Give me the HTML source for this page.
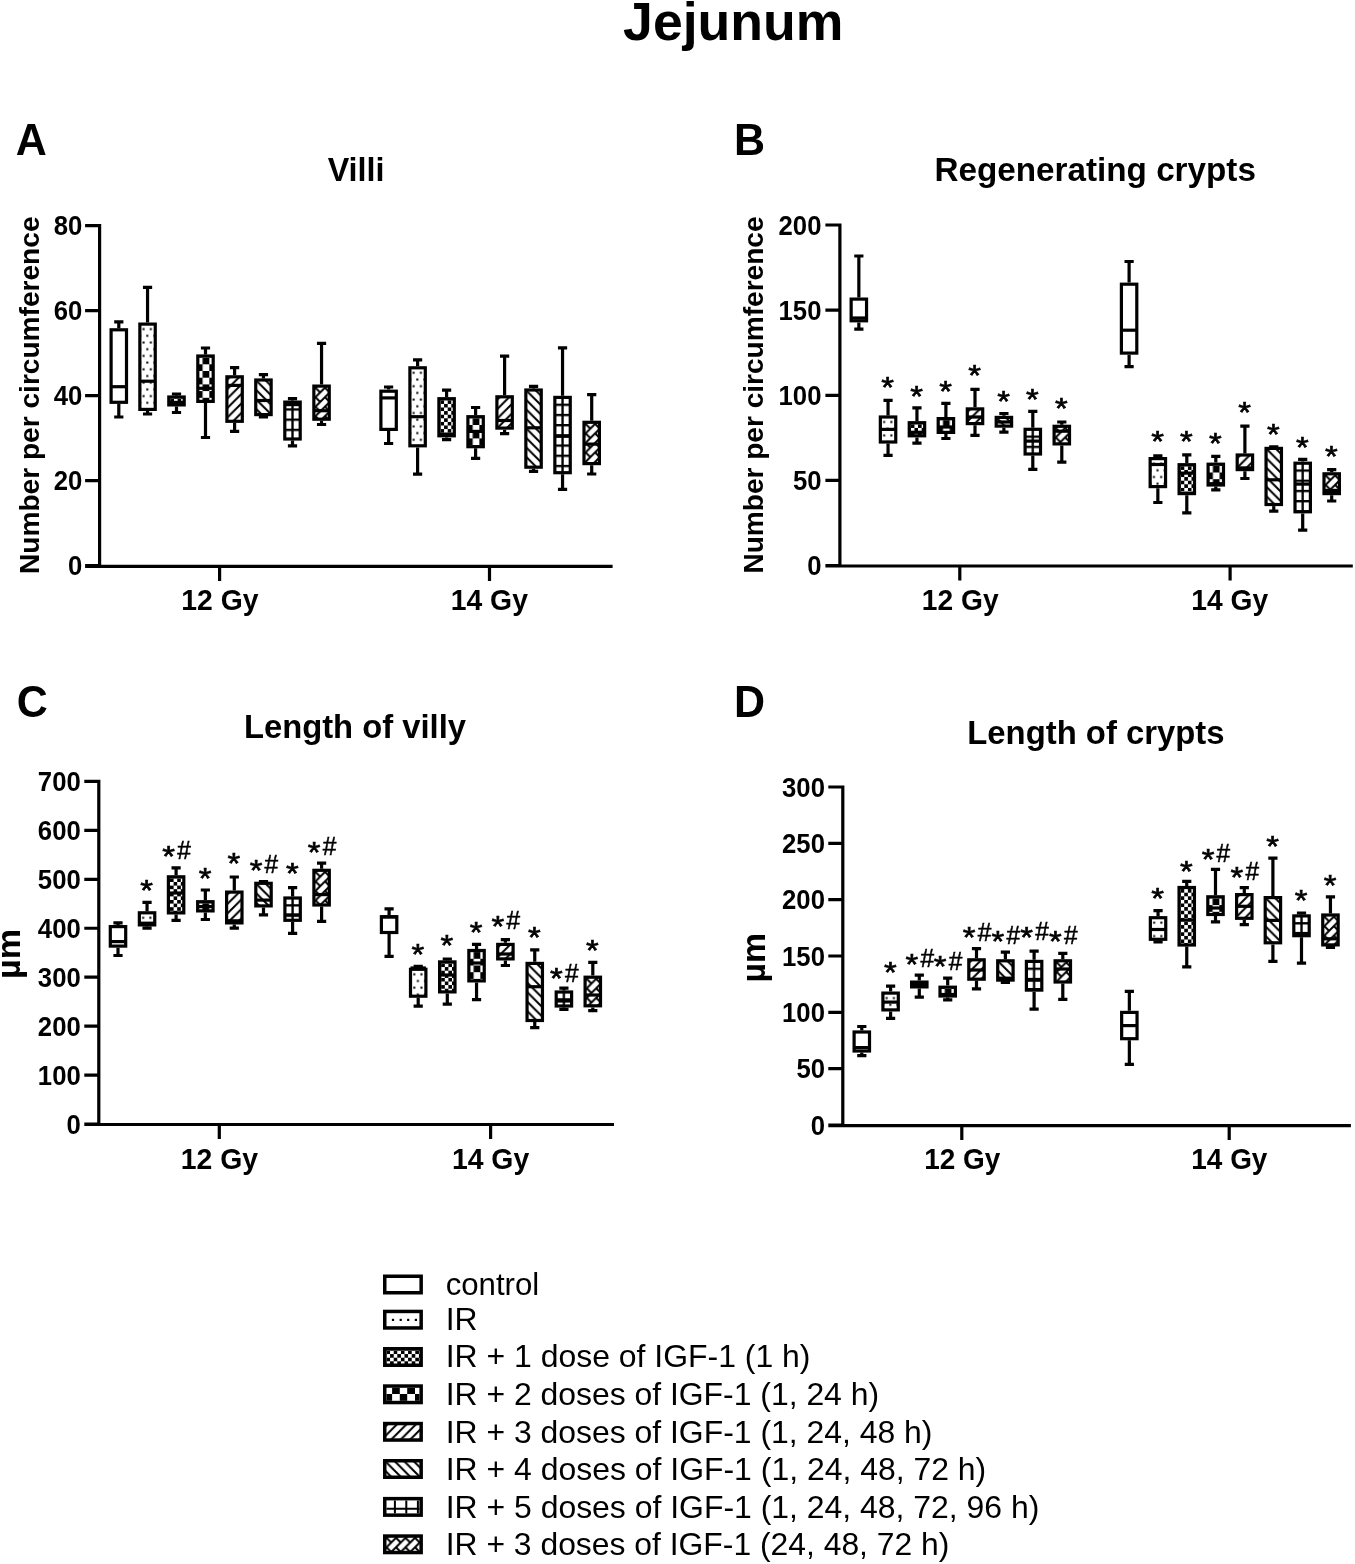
<!DOCTYPE html>
<html><head><meta charset="utf-8"><title>Jejunum</title>
<style>html,body{margin:0;padding:0;background:#fff;}svg{display:block;will-change:transform;}
text{font-family:"Liberation Sans",sans-serif;fill:#000;}</style></head>
<body><svg width="1355" height="1564" viewBox="0 0 1355 1564">
<rect width="1355" height="1564" fill="#fff"/>
<defs><pattern id="p1" patternUnits="userSpaceOnUse" x="141.45" y="325.7" width="7.2" height="13.4"><rect width="7.2" height="13.4" fill="white"/><rect x="1.2" y="2.4" width="2" height="2" fill="black"/><rect x="4.8" y="9.1" width="2" height="2" fill="black"/></pattern>
<pattern id="p2" patternUnits="userSpaceOnUse" x="170.4" y="398.6" width="7.2" height="7.2"><rect width="7.2" height="7.2" fill="white"/><rect x="0" y="0" width="3.6" height="3.6" fill="black"/><rect x="3.6" y="3.6" width="3.6" height="3.6" fill="black"/></pattern>
<pattern id="p3" patternUnits="userSpaceOnUse" x="199.4" y="357.6" width="13.4" height="13.4"><rect width="13.4" height="13.4" fill="white"/><rect x="3.2" y="0" width="6.7" height="6.7" fill="black"/><rect x="9.9" y="6.7" width="6.7" height="6.7" fill="black"/><rect x="-3.5" y="6.7" width="6.7" height="6.7" fill="black"/></pattern>
<pattern id="p4" patternUnits="userSpaceOnUse" x="228.5" y="378.4" width="9.5" height="9.5"><rect width="9.5" height="9.5" fill="white"/><path d="M-1 10.5L10.5 -1M-2 2L2 -2M7.5 11.5L11.5 7.5" stroke="black" stroke-width="2"/></pattern>
<pattern id="p5" patternUnits="userSpaceOnUse" x="257.35" y="381.6" width="9.5" height="9.5"><rect width="9.5" height="9.5" fill="white"/><path d="M-1 -1L10.5 10.5M-2 7.5L2 11.5M7.5 -2L11.5 2" stroke="black" stroke-width="2"/></pattern>
<pattern id="p6" patternUnits="userSpaceOnUse" x="286.4" y="403.7" width="10.2" height="10.2"><rect width="10.2" height="10.2" fill="white"/><path d="M0 5.7H10.2M6.1 0V10.2" stroke="black" stroke-width="2.3"/></pattern>
<pattern id="p7" patternUnits="userSpaceOnUse" x="315.45" y="387.7" width="9.5" height="9.5"><rect width="9.5" height="9.5" fill="white"/><path d="M-1 10.5L10.5 -1M-2 2L2 -2M7.5 11.5L11.5 7.5M0 0L4.75 4.75" stroke="black" stroke-width="2"/></pattern>
<pattern id="p8" patternUnits="userSpaceOnUse" x="411.5" y="369.4" width="7.2" height="13.4"><rect width="7.2" height="13.4" fill="white"/><rect x="1.2" y="2.4" width="2" height="2" fill="black"/><rect x="4.8" y="9.1" width="2" height="2" fill="black"/></pattern>
<pattern id="p9" patternUnits="userSpaceOnUse" x="440.5" y="400.3" width="7.2" height="7.2"><rect width="7.2" height="7.2" fill="white"/><rect x="0" y="0" width="3.6" height="3.6" fill="black"/><rect x="3.6" y="3.6" width="3.6" height="3.6" fill="black"/></pattern>
<pattern id="p10" patternUnits="userSpaceOnUse" x="469.5" y="418.3" width="13.4" height="13.4"><rect width="13.4" height="13.4" fill="white"/><rect x="3.2" y="0" width="6.7" height="6.7" fill="black"/><rect x="9.9" y="6.7" width="6.7" height="6.7" fill="black"/><rect x="-3.5" y="6.7" width="6.7" height="6.7" fill="black"/></pattern>
<pattern id="p11" patternUnits="userSpaceOnUse" x="498.5" y="398.4" width="9.5" height="9.5"><rect width="9.5" height="9.5" fill="white"/><path d="M-1 10.5L10.5 -1M-2 2L2 -2M7.5 11.5L11.5 7.5" stroke="black" stroke-width="2"/></pattern>
<pattern id="p12" patternUnits="userSpaceOnUse" x="527.45" y="391.6" width="9.5" height="9.5"><rect width="9.5" height="9.5" fill="white"/><path d="M-1 -1L10.5 10.5M-2 7.5L2 11.5M7.5 -2L11.5 2" stroke="black" stroke-width="2"/></pattern>
<pattern id="p13" patternUnits="userSpaceOnUse" x="556.45" y="399" width="10.2" height="10.2"><rect width="10.2" height="10.2" fill="white"/><path d="M0 5.7H10.2M6.1 0V10.2" stroke="black" stroke-width="2.3"/></pattern>
<pattern id="p14" patternUnits="userSpaceOnUse" x="585.6" y="423.9" width="9.5" height="9.5"><rect width="9.5" height="9.5" fill="white"/><path d="M-1 10.5L10.5 -1M-2 2L2 -2M7.5 11.5L11.5 7.5M0 0L4.75 4.75" stroke="black" stroke-width="2"/></pattern>
<pattern id="p15" patternUnits="userSpaceOnUse" x="881.95" y="418.6" width="7.2" height="13.4"><rect width="7.2" height="13.4" fill="white"/><rect x="1.2" y="2.4" width="2" height="2" fill="black"/><rect x="4.8" y="9.1" width="2" height="2" fill="black"/></pattern>
<pattern id="p16" patternUnits="userSpaceOnUse" x="910.85" y="424.3" width="7.2" height="7.2"><rect width="7.2" height="7.2" fill="white"/><rect x="0" y="0" width="3.6" height="3.6" fill="black"/><rect x="3.6" y="3.6" width="3.6" height="3.6" fill="black"/></pattern>
<pattern id="p17" patternUnits="userSpaceOnUse" x="939.8" y="420.2" width="13.4" height="13.4"><rect width="13.4" height="13.4" fill="white"/><rect x="3.2" y="0" width="6.7" height="6.7" fill="black"/><rect x="9.9" y="6.7" width="6.7" height="6.7" fill="black"/><rect x="-3.5" y="6.7" width="6.7" height="6.7" fill="black"/></pattern>
<pattern id="p18" patternUnits="userSpaceOnUse" x="968.9" y="410.5" width="9.5" height="9.5"><rect width="9.5" height="9.5" fill="white"/><path d="M-1 10.5L10.5 -1M-2 2L2 -2M7.5 11.5L11.5 7.5" stroke="black" stroke-width="2"/></pattern>
<pattern id="p19" patternUnits="userSpaceOnUse" x="997.8" y="419" width="9.5" height="9.5"><rect width="9.5" height="9.5" fill="white"/><path d="M-1 -1L10.5 10.5M-2 7.5L2 11.5M7.5 -2L11.5 2" stroke="black" stroke-width="2"/></pattern>
<pattern id="p20" patternUnits="userSpaceOnUse" x="1026.7" y="430.9" width="10.2" height="10.2"><rect width="10.2" height="10.2" fill="white"/><path d="M0 5.7H10.2M6.1 0V10.2" stroke="black" stroke-width="2.3"/></pattern>
<pattern id="p21" patternUnits="userSpaceOnUse" x="1055.7" y="427.9" width="9.5" height="9.5"><rect width="9.5" height="9.5" fill="white"/><path d="M-1 10.5L10.5 -1M-2 2L2 -2M7.5 11.5L11.5 7.5M0 0L4.75 4.75" stroke="black" stroke-width="2"/></pattern>
<pattern id="p22" patternUnits="userSpaceOnUse" x="1151.75" y="460.2" width="7.2" height="13.4"><rect width="7.2" height="13.4" fill="white"/><rect x="1.2" y="2.4" width="2" height="2" fill="black"/><rect x="4.8" y="9.1" width="2" height="2" fill="black"/></pattern>
<pattern id="p23" patternUnits="userSpaceOnUse" x="1180.7" y="466.3" width="7.2" height="7.2"><rect width="7.2" height="7.2" fill="white"/><rect x="0" y="0" width="3.6" height="3.6" fill="black"/><rect x="3.6" y="3.6" width="3.6" height="3.6" fill="black"/></pattern>
<pattern id="p24" patternUnits="userSpaceOnUse" x="1209.7" y="465.8" width="13.4" height="13.4"><rect width="13.4" height="13.4" fill="white"/><rect x="3.2" y="0" width="6.7" height="6.7" fill="black"/><rect x="9.9" y="6.7" width="6.7" height="6.7" fill="black"/><rect x="-3.5" y="6.7" width="6.7" height="6.7" fill="black"/></pattern>
<pattern id="p25" patternUnits="userSpaceOnUse" x="1238.8" y="456.6" width="9.5" height="9.5"><rect width="9.5" height="9.5" fill="white"/><path d="M-1 10.5L10.5 -1M-2 2L2 -2M7.5 11.5L11.5 7.5" stroke="black" stroke-width="2"/></pattern>
<pattern id="p26" patternUnits="userSpaceOnUse" x="1267.65" y="450" width="9.5" height="9.5"><rect width="9.5" height="9.5" fill="white"/><path d="M-1 -1L10.5 10.5M-2 7.5L2 11.5M7.5 -2L11.5 2" stroke="black" stroke-width="2"/></pattern>
<pattern id="p27" patternUnits="userSpaceOnUse" x="1296.6" y="464.8" width="10.2" height="10.2"><rect width="10.2" height="10.2" fill="white"/><path d="M0 5.7H10.2M6.1 0V10.2" stroke="black" stroke-width="2.3"/></pattern>
<pattern id="p28" patternUnits="userSpaceOnUse" x="1325.6" y="475.4" width="9.5" height="9.5"><rect width="9.5" height="9.5" fill="white"/><path d="M-1 10.5L10.5 -1M-2 2L2 -2M7.5 11.5L11.5 7.5M0 0L4.75 4.75" stroke="black" stroke-width="2"/></pattern>
<pattern id="p29" patternUnits="userSpaceOnUse" x="140.95" y="914.4" width="7.2" height="13.4"><rect width="7.2" height="13.4" fill="white"/><rect x="1.2" y="2.4" width="2" height="2" fill="black"/><rect x="4.8" y="9.1" width="2" height="2" fill="black"/></pattern>
<pattern id="p30" patternUnits="userSpaceOnUse" x="170" y="878.4" width="7.2" height="7.2"><rect width="7.2" height="7.2" fill="white"/><rect x="0" y="0" width="3.6" height="3.6" fill="black"/><rect x="3.6" y="3.6" width="3.6" height="3.6" fill="black"/></pattern>
<pattern id="p31" patternUnits="userSpaceOnUse" x="199.25" y="903.3" width="13.4" height="13.4"><rect width="13.4" height="13.4" fill="white"/><rect x="3.2" y="0" width="6.7" height="6.7" fill="black"/><rect x="9.9" y="6.7" width="6.7" height="6.7" fill="black"/><rect x="-3.5" y="6.7" width="6.7" height="6.7" fill="black"/></pattern>
<pattern id="p32" patternUnits="userSpaceOnUse" x="228.2" y="893.7" width="9.5" height="9.5"><rect width="9.5" height="9.5" fill="white"/><path d="M-1 10.5L10.5 -1M-2 2L2 -2M7.5 11.5L11.5 7.5" stroke="black" stroke-width="2"/></pattern>
<pattern id="p33" patternUnits="userSpaceOnUse" x="257.4" y="884.9" width="9.5" height="9.5"><rect width="9.5" height="9.5" fill="white"/><path d="M-1 -1L10.5 10.5M-2 7.5L2 11.5M7.5 -2L11.5 2" stroke="black" stroke-width="2"/></pattern>
<pattern id="p34" patternUnits="userSpaceOnUse" x="286.5" y="899.6" width="10.2" height="10.2"><rect width="10.2" height="10.2" fill="white"/><path d="M0 5.7H10.2M6.1 0V10.2" stroke="black" stroke-width="2.3"/></pattern>
<pattern id="p35" patternUnits="userSpaceOnUse" x="315.5" y="871.9" width="9.5" height="9.5"><rect width="9.5" height="9.5" fill="white"/><path d="M-1 10.5L10.5 -1M-2 2L2 -2M7.5 11.5L11.5 7.5M0 0L4.75 4.75" stroke="black" stroke-width="2"/></pattern>
<pattern id="p36" patternUnits="userSpaceOnUse" x="412.1" y="970.9" width="7.2" height="13.4"><rect width="7.2" height="13.4" fill="white"/><rect x="1.2" y="2.4" width="2" height="2" fill="black"/><rect x="4.8" y="9.1" width="2" height="2" fill="black"/></pattern>
<pattern id="p37" patternUnits="userSpaceOnUse" x="441.2" y="963.5" width="7.2" height="7.2"><rect width="7.2" height="7.2" fill="white"/><rect x="0" y="0" width="3.6" height="3.6" fill="black"/><rect x="3.6" y="3.6" width="3.6" height="3.6" fill="black"/></pattern>
<pattern id="p38" patternUnits="userSpaceOnUse" x="470.45" y="952.1" width="13.4" height="13.4"><rect width="13.4" height="13.4" fill="white"/><rect x="3.2" y="0" width="6.7" height="6.7" fill="black"/><rect x="9.9" y="6.7" width="6.7" height="6.7" fill="black"/><rect x="-3.5" y="6.7" width="6.7" height="6.7" fill="black"/></pattern>
<pattern id="p39" patternUnits="userSpaceOnUse" x="499.3" y="946" width="9.5" height="9.5"><rect width="9.5" height="9.5" fill="white"/><path d="M-1 10.5L10.5 -1M-2 2L2 -2M7.5 11.5L11.5 7.5" stroke="black" stroke-width="2"/></pattern>
<pattern id="p40" patternUnits="userSpaceOnUse" x="528.65" y="965" width="9.5" height="9.5"><rect width="9.5" height="9.5" fill="white"/><path d="M-1 -1L10.5 10.5M-2 7.5L2 11.5M7.5 -2L11.5 2" stroke="black" stroke-width="2"/></pattern>
<pattern id="p41" patternUnits="userSpaceOnUse" x="557.8" y="993.6" width="10.2" height="10.2"><rect width="10.2" height="10.2" fill="white"/><path d="M0 5.7H10.2M6.1 0V10.2" stroke="black" stroke-width="2.3"/></pattern>
<pattern id="p42" patternUnits="userSpaceOnUse" x="586.7" y="978.8" width="9.5" height="9.5"><rect width="9.5" height="9.5" fill="white"/><path d="M-1 10.5L10.5 -1M-2 2L2 -2M7.5 11.5L11.5 7.5M0 0L4.75 4.75" stroke="black" stroke-width="2"/></pattern>
<pattern id="p43" patternUnits="userSpaceOnUse" x="884.5" y="994.7" width="7.2" height="13.4"><rect width="7.2" height="13.4" fill="white"/><rect x="1.2" y="2.4" width="2" height="2" fill="black"/><rect x="4.8" y="9.1" width="2" height="2" fill="black"/></pattern>
<pattern id="p44" patternUnits="userSpaceOnUse" x="913.2" y="983.7" width="7.2" height="7.2"><rect width="7.2" height="7.2" fill="white"/><rect x="0" y="0" width="3.6" height="3.6" fill="black"/><rect x="3.6" y="3.6" width="3.6" height="3.6" fill="black"/></pattern>
<pattern id="p45" patternUnits="userSpaceOnUse" x="941.6" y="988.8" width="13.4" height="13.4"><rect width="13.4" height="13.4" fill="white"/><rect x="3.2" y="0" width="6.7" height="6.7" fill="black"/><rect x="9.9" y="6.7" width="6.7" height="6.7" fill="black"/><rect x="-3.5" y="6.7" width="6.7" height="6.7" fill="black"/></pattern>
<pattern id="p46" patternUnits="userSpaceOnUse" x="970.4" y="961.4" width="9.5" height="9.5"><rect width="9.5" height="9.5" fill="white"/><path d="M-1 10.5L10.5 -1M-2 2L2 -2M7.5 11.5L11.5 7.5" stroke="black" stroke-width="2"/></pattern>
<pattern id="p47" patternUnits="userSpaceOnUse" x="999.3" y="962.4" width="9.5" height="9.5"><rect width="9.5" height="9.5" fill="white"/><path d="M-1 -1L10.5 10.5M-2 7.5L2 11.5M7.5 -2L11.5 2" stroke="black" stroke-width="2"/></pattern>
<pattern id="p48" patternUnits="userSpaceOnUse" x="1028" y="963" width="10.2" height="10.2"><rect width="10.2" height="10.2" fill="white"/><path d="M0 5.7H10.2M6.1 0V10.2" stroke="black" stroke-width="2.3"/></pattern>
<pattern id="p49" patternUnits="userSpaceOnUse" x="1056.7" y="962.4" width="9.5" height="9.5"><rect width="9.5" height="9.5" fill="white"/><path d="M-1 10.5L10.5 -1M-2 2L2 -2M7.5 11.5L11.5 7.5M0 0L4.75 4.75" stroke="black" stroke-width="2"/></pattern>
<pattern id="p50" patternUnits="userSpaceOnUse" x="1151.95" y="919.3" width="7.2" height="13.4"><rect width="7.2" height="13.4" fill="white"/><rect x="1.2" y="2.4" width="2" height="2" fill="black"/><rect x="4.8" y="9.1" width="2" height="2" fill="black"/></pattern>
<pattern id="p51" patternUnits="userSpaceOnUse" x="1180.65" y="889.1" width="7.2" height="7.2"><rect width="7.2" height="7.2" fill="white"/><rect x="0" y="0" width="3.6" height="3.6" fill="black"/><rect x="3.6" y="3.6" width="3.6" height="3.6" fill="black"/></pattern>
<pattern id="p52" patternUnits="userSpaceOnUse" x="1209.4" y="898.4" width="13.4" height="13.4"><rect width="13.4" height="13.4" fill="white"/><rect x="3.2" y="0" width="6.7" height="6.7" fill="black"/><rect x="9.9" y="6.7" width="6.7" height="6.7" fill="black"/><rect x="-3.5" y="6.7" width="6.7" height="6.7" fill="black"/></pattern>
<pattern id="p53" patternUnits="userSpaceOnUse" x="1238.2" y="896.2" width="9.5" height="9.5"><rect width="9.5" height="9.5" fill="white"/><path d="M-1 10.5L10.5 -1M-2 2L2 -2M7.5 11.5L11.5 7.5" stroke="black" stroke-width="2"/></pattern>
<pattern id="p54" patternUnits="userSpaceOnUse" x="1266.8" y="899.2" width="9.5" height="9.5"><rect width="9.5" height="9.5" fill="white"/><path d="M-1 -1L10.5 10.5M-2 7.5L2 11.5M7.5 -2L11.5 2" stroke="black" stroke-width="2"/></pattern>
<pattern id="p55" patternUnits="userSpaceOnUse" x="1295.4" y="917.5" width="10.2" height="10.2"><rect width="10.2" height="10.2" fill="white"/><path d="M0 5.7H10.2M6.1 0V10.2" stroke="black" stroke-width="2.3"/></pattern>
<pattern id="p56" patternUnits="userSpaceOnUse" x="1324.35" y="916.6" width="9.5" height="9.5"><rect width="9.5" height="9.5" fill="white"/><path d="M-1 10.5L10.5 -1M-2 2L2 -2M7.5 11.5L11.5 7.5M0 0L4.75 4.75" stroke="black" stroke-width="2"/></pattern>
<pattern id="p57" patternUnits="userSpaceOnUse" x="386.5" y="1350.5" width="7.2" height="7.2"><rect width="7.2" height="7.2" fill="white"/><rect x="0" y="0" width="3.6" height="3.6" fill="black"/><rect x="3.6" y="3.6" width="3.6" height="3.6" fill="black"/></pattern>
<pattern id="p58" patternUnits="userSpaceOnUse" x="386.5" y="1425.3" width="9.5" height="9.5"><rect width="9.5" height="9.5" fill="white"/><path d="M-1 10.5L10.5 -1M-2 2L2 -2M7.5 11.5L11.5 7.5" stroke="black" stroke-width="2"/></pattern>
<pattern id="p59" patternUnits="userSpaceOnUse" x="386.5" y="1462.5" width="9.5" height="9.5"><rect width="9.5" height="9.5" fill="white"/><path d="M-1 -1L10.5 10.5M-2 7.5L2 11.5M7.5 -2L11.5 2" stroke="black" stroke-width="2"/></pattern>
<pattern id="p60" patternUnits="userSpaceOnUse" x="386.5" y="1537.8" width="9.5" height="9.5"><rect width="9.5" height="9.5" fill="white"/><path d="M-1 10.5L10.5 -1M-2 2L2 -2M7.5 11.5L11.5 7.5M0 0L4.75 4.75" stroke="black" stroke-width="2"/></pattern></defs>
<text x="623.1" y="39.8" font-size="53.6" font-weight="bold" textLength="220.43" lengthAdjust="spacingAndGlyphs">Jejunum</text>
<text x="15.73" y="155.4" font-size="43" font-weight="bold" transform="matrix(1 0 0 1.0200 0 -3.108)">A</text>
<text x="733.9" y="155.4" font-size="43" font-weight="bold" transform="matrix(1 0 0 1.0200 0 -3.108)">B</text>
<text x="16.78" y="716.6" font-size="43" font-weight="bold" transform="matrix(1 0 0 1.0200 0 -14.332)">C</text>
<text x="733.9" y="717.1" font-size="43" font-weight="bold" transform="matrix(1 0 0 1.0200 0 -14.342)">D</text>
<text x="327.66" y="181.2" font-size="32.8" font-weight="bold" textLength="56.81" lengthAdjust="spacingAndGlyphs">Villi</text>
<text x="934.56" y="181.2" font-size="32.8" font-weight="bold" textLength="321.35" lengthAdjust="spacingAndGlyphs">Regenerating crypts</text>
<text x="243.99" y="737.5" font-size="32.8" font-weight="bold" textLength="221.99" lengthAdjust="spacingAndGlyphs">Length of villy</text>
<text x="967.28" y="744.1" font-size="32.8" font-weight="bold" textLength="257.27" lengthAdjust="spacingAndGlyphs">Length of crypts</text>
<text transform="translate(39.1 572.1) rotate(-90)" x="-1.9" y="0" font-size="28.1" font-weight="bold" textLength="357.51" lengthAdjust="spacingAndGlyphs">Number per circumference</text>
<text transform="translate(763 571.7) rotate(-90)" x="-1.89" y="0" font-size="28.1" font-weight="bold" textLength="357.11" lengthAdjust="spacingAndGlyphs">Number per circumference</text>
<text transform="translate(20.1 976.7) rotate(-90)" x="-2.22" y="0" font-size="34" font-weight="bold" textLength="50.07" lengthAdjust="spacingAndGlyphs">µm</text>
<text transform="translate(765.1 980.2) rotate(-90)" x="-2.2" y="0" font-size="34" font-weight="bold" textLength="49.52" lengthAdjust="spacingAndGlyphs">µm</text>
<path d="M99.6 224V568M85.1 566.4H612.6M85.1 565.6H99.6M85.1 480.6H99.6M85.1 395.6H99.6M85.1 310.6H99.6M85.1 225.6H99.6M219.6 566.4V580.9M489.5 566.4V580.9" stroke="black" stroke-width="3.2" fill="none"/>
<text x="67.96" y="575.38" font-size="25.7" font-weight="bold" transform="matrix(1 0 0 1.0500 0 -28.769)">0</text>
<text x="53.7" y="490.38" font-size="25.7" font-weight="bold" transform="matrix(1 0 0 1.0500 0 -24.519)">20</text>
<text x="53.7" y="405.38" font-size="25.7" font-weight="bold" transform="matrix(1 0 0 1.0500 0 -20.269)">40</text>
<text x="53.7" y="320.38" font-size="25.7" font-weight="bold" transform="matrix(1 0 0 1.0500 0 -16.019)">60</text>
<text x="53.7" y="235.38" font-size="25.7" font-weight="bold" transform="matrix(1 0 0 1.0500 0 -11.769)">80</text>
<text x="181.33" y="610.5" font-size="28.3" font-weight="bold" transform="matrix(1 0 0 1.0750 0 -45.787)" textLength="77.16" lengthAdjust="spacingAndGlyphs">12 Gy</text>
<text x="450.73" y="610.5" font-size="28.3" font-weight="bold" transform="matrix(1 0 0 1.0750 0 -45.787)" textLength="77.16" lengthAdjust="spacingAndGlyphs">14 Gy</text>
<path d="M839.9 223.4V567.6M825.4 566H1352.8M825.4 565.6H839.9M825.4 480.45H839.9M825.4 395.3H839.9M825.4 310.15H839.9M825.4 225H839.9M959.8 566V580.5M1230.1 566V580.5" stroke="black" stroke-width="3.2" fill="none"/>
<text x="807.16" y="575.38" font-size="25.7" font-weight="bold" transform="matrix(1 0 0 1.0500 0 -28.769)">0</text>
<text x="792.9" y="490.23" font-size="25.7" font-weight="bold" transform="matrix(1 0 0 1.0500 0 -24.511)">50</text>
<text x="778.57" y="405.08" font-size="25.7" font-weight="bold" transform="matrix(1 0 0 1.0500 0 -20.254)">100</text>
<text x="778.57" y="319.93" font-size="25.7" font-weight="bold" transform="matrix(1 0 0 1.0500 0 -15.996)">150</text>
<text x="778.57" y="234.78" font-size="25.7" font-weight="bold" transform="matrix(1 0 0 1.0500 0 -11.739)">200</text>
<text x="921.84" y="610.1" font-size="28.3" font-weight="bold" transform="matrix(1 0 0 1.0750 0 -45.757)" textLength="76.75" lengthAdjust="spacingAndGlyphs">12 Gy</text>
<text x="1191.34" y="610.1" font-size="28.3" font-weight="bold" transform="matrix(1 0 0 1.0750 0 -45.757)" textLength="76.75" lengthAdjust="spacingAndGlyphs">14 Gy</text>
<path d="M98.8 779.8V1126.1M84.3 1124.5H614M84.3 1124H98.8M84.3 1075.06H98.8M84.3 1026.11H98.8M84.3 977.17H98.8M84.3 928.23H98.8M84.3 879.29H98.8M84.3 830.34H98.8M84.3 781.4H98.8M219.3 1124.5V1139M490.6 1124.5V1139" stroke="black" stroke-width="3.2" fill="none"/>
<text x="66.46" y="1133.78" font-size="25.7" font-weight="bold" transform="matrix(1 0 0 1.0500 0 -56.689)">0</text>
<text x="37.87" y="1084.83" font-size="25.7" font-weight="bold" transform="matrix(1 0 0 1.0500 0 -54.242)">100</text>
<text x="37.87" y="1035.89" font-size="25.7" font-weight="bold" transform="matrix(1 0 0 1.0500 0 -51.795)">200</text>
<text x="37.87" y="986.91" font-size="25.7" font-weight="bold" transform="matrix(1 0 0 1.0500 0 -49.346)">300</text>
<text x="37.87" y="938" font-size="25.7" font-weight="bold" transform="matrix(1 0 0 1.0500 0 -46.900)">400</text>
<text x="37.87" y="889.06" font-size="25.7" font-weight="bold" transform="matrix(1 0 0 1.0500 0 -44.453)">500</text>
<text x="37.87" y="840.12" font-size="25.7" font-weight="bold" transform="matrix(1 0 0 1.0500 0 -42.006)">600</text>
<text x="37.87" y="791.18" font-size="25.7" font-weight="bold" transform="matrix(1 0 0 1.0500 0 -39.559)">700</text>
<text x="180.83" y="1168.9" font-size="28.3" font-weight="bold" transform="matrix(1 0 0 1.0750 0 -87.667)" textLength="77.26" lengthAdjust="spacingAndGlyphs">12 Gy</text>
<text x="451.93" y="1168.9" font-size="28.3" font-weight="bold" transform="matrix(1 0 0 1.0750 0 -87.667)" textLength="77.26" lengthAdjust="spacingAndGlyphs">14 Gy</text>
<path d="M842.8 785.4V1127.2M828.3 1125.6H1350.9M828.3 1125H842.8M828.3 1068.67H842.8M828.3 1012.33H842.8M828.3 956H842.8M828.3 899.67H842.8M828.3 843.33H842.8M828.3 787H842.8M961.8 1125.6V1140.1M1229.2 1125.6V1140.1" stroke="black" stroke-width="3.2" fill="none"/>
<text x="810.66" y="1134.78" font-size="25.7" font-weight="bold" transform="matrix(1 0 0 1.0500 0 -56.739)">0</text>
<text x="796.4" y="1078.44" font-size="25.7" font-weight="bold" transform="matrix(1 0 0 1.0500 0 -53.922)">50</text>
<text x="782.07" y="1022.11" font-size="25.7" font-weight="bold" transform="matrix(1 0 0 1.0500 0 -51.105)">100</text>
<text x="782.07" y="965.78" font-size="25.7" font-weight="bold" transform="matrix(1 0 0 1.0500 0 -48.289)">150</text>
<text x="782.07" y="909.44" font-size="25.7" font-weight="bold" transform="matrix(1 0 0 1.0500 0 -45.472)">200</text>
<text x="782.07" y="853.11" font-size="25.7" font-weight="bold" transform="matrix(1 0 0 1.0500 0 -42.655)">250</text>
<text x="782.07" y="796.74" font-size="25.7" font-weight="bold" transform="matrix(1 0 0 1.0500 0 -39.837)">300</text>
<text x="924.16" y="1169.4" font-size="28.3" font-weight="bold" transform="matrix(1 0 0 1.0750 0 -87.705)" textLength="76.03" lengthAdjust="spacingAndGlyphs">12 Gy</text>
<text x="1191.36" y="1169.4" font-size="28.3" font-weight="bold" transform="matrix(1 0 0 1.0750 0 -87.705)" textLength="76.03" lengthAdjust="spacingAndGlyphs">14 Gy</text>
<path d="M118.8 321.8V328.2M118.8 403.9V417" stroke="black" stroke-width="3.2"/>
<path d="M114.2 321.8H123.4M114.2 417H123.4" stroke="black" stroke-width="3.2"/>
<rect x="111.1" y="329.8" width="15.4" height="72.5" fill="white" stroke="black" stroke-width="3.2"/>
<path d="M111.1 386.7H126.5" stroke="black" stroke-width="3.2"/>
<path d="M147.55 287.4V322.5M147.55 411V414" stroke="black" stroke-width="3.2"/>
<path d="M142.95 287.4H152.15M142.95 414H152.15" stroke="black" stroke-width="3.2"/>
<rect x="139.85" y="324.1" width="15.4" height="85.3" fill="url(#p1)" stroke="black" stroke-width="3.2"/>
<path d="M139.85 381.2H155.25" stroke="black" stroke-width="3.2"/>
<path d="M176.5 394V395.4M176.5 406.5V412.5" stroke="black" stroke-width="3.2"/>
<path d="M171.9 394H181.1M171.9 412.5H181.1" stroke="black" stroke-width="3.2"/>
<rect x="168.8" y="397" width="15.4" height="7.9" fill="url(#p2)" stroke="black" stroke-width="3.2"/>
<path d="M168.8 402.4H184.2" stroke="black" stroke-width="3.2"/>
<path d="M205.5 348V354.4M205.5 403V437.5" stroke="black" stroke-width="3.2"/>
<path d="M200.9 348H210.1M200.9 437.5H210.1" stroke="black" stroke-width="3.2"/>
<rect x="197.8" y="356" width="15.4" height="45.4" fill="url(#p3)" stroke="black" stroke-width="3.2"/>
<path d="M197.8 388.3H213.2" stroke="black" stroke-width="3.2"/>
<path d="M234.6 367.7V375.2M234.6 422.9V431.4" stroke="black" stroke-width="3.2"/>
<path d="M230 367.7H239.2M230 431.4H239.2" stroke="black" stroke-width="3.2"/>
<rect x="226.9" y="376.8" width="15.4" height="44.5" fill="url(#p4)" stroke="black" stroke-width="3.2"/>
<path d="M226.9 385.4H242.3" stroke="black" stroke-width="3.2"/>
<path d="M263.45 374.7V378.4M263.45 416.2V417" stroke="black" stroke-width="3.2"/>
<path d="M258.85 374.7H268.05M258.85 417H268.05" stroke="black" stroke-width="3.2"/>
<rect x="255.75" y="380" width="15.4" height="34.6" fill="url(#p5)" stroke="black" stroke-width="3.2"/>
<path d="M255.75 400.5H271.15" stroke="black" stroke-width="3.2"/>
<path d="M292.5 398.7V400.5M292.5 440.6V445.8" stroke="black" stroke-width="3.2"/>
<path d="M287.9 398.7H297.1M287.9 445.8H297.1" stroke="black" stroke-width="3.2"/>
<rect x="284.8" y="402.1" width="15.4" height="36.9" fill="url(#p6)" stroke="black" stroke-width="3.2"/>
<path d="M284.8 404.6H300.2" stroke="black" stroke-width="3.2"/>
<path d="M321.55 343.4V384.5M321.55 420.8V424.5" stroke="black" stroke-width="3.2"/>
<path d="M316.95 343.4H326.15M316.95 424.5H326.15" stroke="black" stroke-width="3.2"/>
<rect x="313.85" y="386.1" width="15.4" height="33.1" fill="url(#p7)" stroke="black" stroke-width="3.2"/>
<path d="M313.85 410.7H329.25" stroke="black" stroke-width="3.2"/>
<path d="M388.6 387V389.6M388.6 431V443.5" stroke="black" stroke-width="3.2"/>
<path d="M384 387H393.2M384 443.5H393.2" stroke="black" stroke-width="3.2"/>
<rect x="380.9" y="391.2" width="15.4" height="38.2" fill="white" stroke="black" stroke-width="3.2"/>
<path d="M380.9 397.9H396.3" stroke="black" stroke-width="3.2"/>
<path d="M417.6 359.9V366.2M417.6 447.4V474.2" stroke="black" stroke-width="3.2"/>
<path d="M413 359.9H422.2M413 474.2H422.2" stroke="black" stroke-width="3.2"/>
<rect x="409.9" y="367.8" width="15.4" height="78" fill="url(#p8)" stroke="black" stroke-width="3.2"/>
<path d="M409.9 416.7H425.3" stroke="black" stroke-width="3.2"/>
<path d="M446.6 390.2V397.1M446.6 437.4V439.7" stroke="black" stroke-width="3.2"/>
<path d="M442 390.2H451.2M442 439.7H451.2" stroke="black" stroke-width="3.2"/>
<rect x="438.9" y="398.7" width="15.4" height="37.1" fill="url(#p9)" stroke="black" stroke-width="3.2"/>
<path d="M438.9 434.3H454.3" stroke="black" stroke-width="3.2"/>
<path d="M475.6 407.5V415.1M475.6 448.3V458.3" stroke="black" stroke-width="3.2"/>
<path d="M471 407.5H480.2M471 458.3H480.2" stroke="black" stroke-width="3.2"/>
<rect x="467.9" y="416.7" width="15.4" height="30" fill="url(#p10)" stroke="black" stroke-width="3.2"/>
<path d="M467.9 431.4H483.3" stroke="black" stroke-width="3.2"/>
<path d="M504.6 356.2V395.2M504.6 429.7V433.7" stroke="black" stroke-width="3.2"/>
<path d="M500 356.2H509.2M500 433.7H509.2" stroke="black" stroke-width="3.2"/>
<rect x="496.9" y="396.8" width="15.4" height="31.3" fill="url(#p11)" stroke="black" stroke-width="3.2"/>
<path d="M496.9 420.5H512.3" stroke="black" stroke-width="3.2"/>
<path d="M533.55 386.3V388.4M533.55 468.8V471.3" stroke="black" stroke-width="3.2"/>
<path d="M528.95 386.3H538.15M528.95 471.3H538.15" stroke="black" stroke-width="3.2"/>
<rect x="525.85" y="390" width="15.4" height="77.2" fill="url(#p12)" stroke="black" stroke-width="3.2"/>
<path d="M525.85 427.8H541.25" stroke="black" stroke-width="3.2"/>
<path d="M562.55 347.9V395.8M562.55 474.3V489.4" stroke="black" stroke-width="3.2"/>
<path d="M557.95 347.9H567.15M557.95 489.4H567.15" stroke="black" stroke-width="3.2"/>
<rect x="554.85" y="397.4" width="15.4" height="75.3" fill="url(#p13)" stroke="black" stroke-width="3.2"/>
<path d="M554.85 436.3H570.25" stroke="black" stroke-width="3.2"/>
<path d="M591.7 394.6V420.7M591.7 465.2V474" stroke="black" stroke-width="3.2"/>
<path d="M587.1 394.6H596.3M587.1 474H596.3" stroke="black" stroke-width="3.2"/>
<rect x="584" y="422.3" width="15.4" height="41.3" fill="url(#p14)" stroke="black" stroke-width="3.2"/>
<path d="M584 444.1H599.4" stroke="black" stroke-width="3.2"/>
<path d="M858.85 256V297.5M858.85 322.4V329.1" stroke="black" stroke-width="3.2"/>
<path d="M854.25 256H863.45M854.25 329.1H863.45" stroke="black" stroke-width="3.2"/>
<rect x="851.15" y="299.1" width="15.4" height="21.7" fill="white" stroke="black" stroke-width="3.2"/>
<path d="M851.15 318H866.55" stroke="black" stroke-width="3.2"/>
<path d="M888.05 400.4V415.4M888.05 443.6V455.3" stroke="black" stroke-width="3.2"/>
<path d="M883.45 400.4H892.65M883.45 455.3H892.65" stroke="black" stroke-width="3.2"/>
<rect x="880.35" y="417" width="15.4" height="25" fill="url(#p15)" stroke="black" stroke-width="3.2"/>
<path d="M880.35 429.4H895.75" stroke="black" stroke-width="3.2"/>
<path d="M916.95 407.8V421.1M916.95 437.4V443.2" stroke="black" stroke-width="3.2"/>
<path d="M912.35 407.8H921.55M912.35 443.2H921.55" stroke="black" stroke-width="3.2"/>
<rect x="909.25" y="422.7" width="15.4" height="13.1" fill="url(#p16)" stroke="black" stroke-width="3.2"/>
<path d="M909.25 432.3H924.65" stroke="black" stroke-width="3.2"/>
<path d="M945.9 403.4V417M945.9 434V438.5" stroke="black" stroke-width="3.2"/>
<path d="M941.3 403.4H950.5M941.3 438.5H950.5" stroke="black" stroke-width="3.2"/>
<rect x="938.2" y="418.6" width="15.4" height="13.8" fill="url(#p17)" stroke="black" stroke-width="3.2"/>
<path d="M938.2 427H953.6" stroke="black" stroke-width="3.2"/>
<path d="M975 389.3V407.3M975 425.2V435.3" stroke="black" stroke-width="3.2"/>
<path d="M970.4 389.3H979.6M970.4 435.3H979.6" stroke="black" stroke-width="3.2"/>
<rect x="967.3" y="408.9" width="15.4" height="14.7" fill="url(#p18)" stroke="black" stroke-width="3.2"/>
<path d="M967.3 417H982.7" stroke="black" stroke-width="3.2"/>
<path d="M1003.9 413.5V415.8M1003.9 427.7V432.1" stroke="black" stroke-width="3.2"/>
<path d="M999.3 413.5H1008.5M999.3 432.1H1008.5" stroke="black" stroke-width="3.2"/>
<rect x="996.2" y="417.4" width="15.4" height="8.7" fill="url(#p19)" stroke="black" stroke-width="3.2"/>
<path d="M996.2 422H1011.6" stroke="black" stroke-width="3.2"/>
<path d="M1032.8 411.4V427.7M1032.8 455.6V469.3" stroke="black" stroke-width="3.2"/>
<path d="M1028.2 411.4H1037.4M1028.2 469.3H1037.4" stroke="black" stroke-width="3.2"/>
<rect x="1025.1" y="429.3" width="15.4" height="24.7" fill="url(#p20)" stroke="black" stroke-width="3.2"/>
<path d="M1025.1 441.1H1040.5" stroke="black" stroke-width="3.2"/>
<path d="M1061.8 422V424.7M1061.8 445.5V462.2" stroke="black" stroke-width="3.2"/>
<path d="M1057.2 422H1066.4M1057.2 462.2H1066.4" stroke="black" stroke-width="3.2"/>
<rect x="1054.1" y="426.3" width="15.4" height="17.6" fill="url(#p21)" stroke="black" stroke-width="3.2"/>
<path d="M1054.1 431.2H1069.5" stroke="black" stroke-width="3.2"/>
<path d="M1129.1 261.5V282.6M1129.1 354.7V366.6" stroke="black" stroke-width="3.2"/>
<path d="M1124.5 261.5H1133.7M1124.5 366.6H1133.7" stroke="black" stroke-width="3.2"/>
<rect x="1121.4" y="284.2" width="15.4" height="68.9" fill="white" stroke="black" stroke-width="3.2"/>
<path d="M1121.4 330.2H1136.8" stroke="black" stroke-width="3.2"/>
<path d="M1157.85 455.9V457M1157.85 488.2V502.5" stroke="black" stroke-width="3.2"/>
<path d="M1153.25 455.9H1162.45M1153.25 502.5H1162.45" stroke="black" stroke-width="3.2"/>
<rect x="1150.15" y="458.6" width="15.4" height="28" fill="url(#p22)" stroke="black" stroke-width="3.2"/>
<path d="M1150.15 464.5H1165.55" stroke="black" stroke-width="3.2"/>
<path d="M1186.8 454.9V463.1M1186.8 495.2V512.8" stroke="black" stroke-width="3.2"/>
<path d="M1182.2 454.9H1191.4M1182.2 512.8H1191.4" stroke="black" stroke-width="3.2"/>
<rect x="1179.1" y="464.7" width="15.4" height="28.9" fill="url(#p23)" stroke="black" stroke-width="3.2"/>
<path d="M1179.1 473.1H1194.5" stroke="black" stroke-width="3.2"/>
<path d="M1215.8 456.4V462.6M1215.8 486.6V489.8" stroke="black" stroke-width="3.2"/>
<path d="M1211.2 456.4H1220.4M1211.2 489.8H1220.4" stroke="black" stroke-width="3.2"/>
<rect x="1208.1" y="464.2" width="15.4" height="20.8" fill="url(#p24)" stroke="black" stroke-width="3.2"/>
<path d="M1208.1 483.7H1223.5" stroke="black" stroke-width="3.2"/>
<path d="M1244.9 426.1V453.4M1244.9 471.2V478.5" stroke="black" stroke-width="3.2"/>
<path d="M1240.3 426.1H1249.5M1240.3 478.5H1249.5" stroke="black" stroke-width="3.2"/>
<rect x="1237.2" y="455" width="15.4" height="14.6" fill="url(#p25)" stroke="black" stroke-width="3.2"/>
<path d="M1237.2 467.9H1252.6" stroke="black" stroke-width="3.2"/>
<path d="M1273.75 446.8V446.8M1273.75 506.1V511.1" stroke="black" stroke-width="3.2"/>
<path d="M1269.15 446.8H1278.35M1269.15 511.1H1278.35" stroke="black" stroke-width="3.2"/>
<rect x="1266.05" y="448.4" width="15.4" height="56.1" fill="url(#p26)" stroke="black" stroke-width="3.2"/>
<path d="M1266.05 479.8H1281.45" stroke="black" stroke-width="3.2"/>
<path d="M1302.7 459.3V461.6M1302.7 513.4V530.1" stroke="black" stroke-width="3.2"/>
<path d="M1298.1 459.3H1307.3M1298.1 530.1H1307.3" stroke="black" stroke-width="3.2"/>
<rect x="1295" y="463.2" width="15.4" height="48.6" fill="url(#p27)" stroke="black" stroke-width="3.2"/>
<path d="M1295 484.1H1310.4" stroke="black" stroke-width="3.2"/>
<path d="M1331.7 469.7V472.2M1331.7 495.2V501" stroke="black" stroke-width="3.2"/>
<path d="M1327.1 469.7H1336.3M1327.1 501H1336.3" stroke="black" stroke-width="3.2"/>
<rect x="1324" y="473.8" width="15.4" height="19.8" fill="url(#p28)" stroke="black" stroke-width="3.2"/>
<path d="M1324 490.4H1339.4" stroke="black" stroke-width="3.2"/>
<path d="M118 922.8V925M118 947.7V955.5" stroke="black" stroke-width="3.2"/>
<path d="M113.4 922.8H122.6M113.4 955.5H122.6" stroke="black" stroke-width="3.2"/>
<rect x="110.3" y="926.6" width="15.4" height="19.5" fill="white" stroke="black" stroke-width="3.2"/>
<path d="M110.3 941.6H125.7" stroke="black" stroke-width="3.2"/>
<path d="M147.05 902.3V911.2M147.05 926.5V928.2" stroke="black" stroke-width="3.2"/>
<path d="M142.45 902.3H151.65M142.45 928.2H151.65" stroke="black" stroke-width="3.2"/>
<rect x="139.35" y="912.8" width="15.4" height="12.1" fill="url(#p29)" stroke="black" stroke-width="3.2"/>
<path d="M139.35 923.2H154.75" stroke="black" stroke-width="3.2"/>
<path d="M176.1 867.8V875.2M176.1 914.5V920.4" stroke="black" stroke-width="3.2"/>
<path d="M171.5 867.8H180.7M171.5 920.4H180.7" stroke="black" stroke-width="3.2"/>
<rect x="168.4" y="876.8" width="15.4" height="36.1" fill="url(#p30)" stroke="black" stroke-width="3.2"/>
<path d="M168.4 893H183.8" stroke="black" stroke-width="3.2"/>
<path d="M205.35 890V900.1M205.35 912.5V919.5" stroke="black" stroke-width="3.2"/>
<path d="M200.75 890H209.95M200.75 919.5H209.95" stroke="black" stroke-width="3.2"/>
<rect x="197.65" y="901.7" width="15.4" height="9.2" fill="url(#p31)" stroke="black" stroke-width="3.2"/>
<path d="M197.65 906.6H213.05" stroke="black" stroke-width="3.2"/>
<path d="M234.3 877V890.5M234.3 924.5V928.2" stroke="black" stroke-width="3.2"/>
<path d="M229.7 877H238.9M229.7 928.2H238.9" stroke="black" stroke-width="3.2"/>
<rect x="226.6" y="892.1" width="15.4" height="30.8" fill="url(#p32)" stroke="black" stroke-width="3.2"/>
<path d="M226.6 920.8H242" stroke="black" stroke-width="3.2"/>
<path d="M263.5 881.7V881.7M263.5 907.5V914.9" stroke="black" stroke-width="3.2"/>
<path d="M258.9 881.7H268.1M258.9 914.9H268.1" stroke="black" stroke-width="3.2"/>
<rect x="255.8" y="883.3" width="15.4" height="22.6" fill="url(#p33)" stroke="black" stroke-width="3.2"/>
<path d="M255.8 900.1H271.2" stroke="black" stroke-width="3.2"/>
<path d="M292.6 887.6V896.4M292.6 921.9V933.3" stroke="black" stroke-width="3.2"/>
<path d="M288 887.6H297.2M288 933.3H297.2" stroke="black" stroke-width="3.2"/>
<rect x="284.9" y="898" width="15.4" height="22.3" fill="url(#p34)" stroke="black" stroke-width="3.2"/>
<path d="M284.9 914.9H300.3" stroke="black" stroke-width="3.2"/>
<path d="M321.6 863.2V868.7M321.6 906.6V921.3" stroke="black" stroke-width="3.2"/>
<path d="M317 863.2H326.2M317 921.3H326.2" stroke="black" stroke-width="3.2"/>
<rect x="313.9" y="870.3" width="15.4" height="34.7" fill="url(#p35)" stroke="black" stroke-width="3.2"/>
<path d="M313.9 894.6H329.3" stroke="black" stroke-width="3.2"/>
<path d="M389.1 908.9V915.1M389.1 934.1V956.3" stroke="black" stroke-width="3.2"/>
<path d="M384.5 908.9H393.7M384.5 956.3H393.7" stroke="black" stroke-width="3.2"/>
<rect x="381.4" y="916.7" width="15.4" height="15.8" fill="white" stroke="black" stroke-width="3.2"/>
<path d="M381.4 917H396.8" stroke="black" stroke-width="3.2"/>
<path d="M418.2 966.4V967.7M418.2 997.8V1006.1" stroke="black" stroke-width="3.2"/>
<path d="M413.6 966.4H422.8M413.6 1006.1H422.8" stroke="black" stroke-width="3.2"/>
<rect x="410.5" y="969.3" width="15.4" height="26.9" fill="url(#p36)" stroke="black" stroke-width="3.2"/>
<path d="M410.5 968H425.9" stroke="black" stroke-width="3.2"/>
<path d="M447.3 959V960.3M447.3 993.5V1004.2" stroke="black" stroke-width="3.2"/>
<path d="M442.7 959H451.9M442.7 1004.2H451.9" stroke="black" stroke-width="3.2"/>
<rect x="439.6" y="961.9" width="15.4" height="30" fill="url(#p37)" stroke="black" stroke-width="3.2"/>
<path d="M439.6 975H455" stroke="black" stroke-width="3.2"/>
<path d="M476.55 944.3V948.9M476.55 982.5V999.6" stroke="black" stroke-width="3.2"/>
<path d="M471.95 944.3H481.15M471.95 999.6H481.15" stroke="black" stroke-width="3.2"/>
<rect x="468.85" y="950.5" width="15.4" height="30.4" fill="url(#p38)" stroke="black" stroke-width="3.2"/>
<path d="M468.85 963H484.25" stroke="black" stroke-width="3.2"/>
<path d="M505.4 939.7V942.8M505.4 960.5V965.5" stroke="black" stroke-width="3.2"/>
<path d="M500.8 939.7H510M500.8 965.5H510" stroke="black" stroke-width="3.2"/>
<rect x="497.7" y="944.4" width="15.4" height="14.5" fill="url(#p39)" stroke="black" stroke-width="3.2"/>
<path d="M497.7 954H513.1" stroke="black" stroke-width="3.2"/>
<path d="M534.75 949.8V961.8M534.75 1022.1V1027.7" stroke="black" stroke-width="3.2"/>
<path d="M530.15 949.8H539.35M530.15 1027.7H539.35" stroke="black" stroke-width="3.2"/>
<rect x="527.05" y="963.4" width="15.4" height="57.1" fill="url(#p40)" stroke="black" stroke-width="3.2"/>
<path d="M527.05 986.7H542.45" stroke="black" stroke-width="3.2"/>
<path d="M563.9 988.2V990.4M563.9 1007.6V1009.4" stroke="black" stroke-width="3.2"/>
<path d="M559.3 988.2H568.5M559.3 1009.4H568.5" stroke="black" stroke-width="3.2"/>
<rect x="556.2" y="992" width="15.4" height="14" fill="url(#p41)" stroke="black" stroke-width="3.2"/>
<path d="M556.2 1001H571.6" stroke="black" stroke-width="3.2"/>
<path d="M592.8 962.4V975.6M592.8 1007.4V1010.7" stroke="black" stroke-width="3.2"/>
<path d="M588.2 962.4H597.4M588.2 1010.7H597.4" stroke="black" stroke-width="3.2"/>
<rect x="585.1" y="977.2" width="15.4" height="28.6" fill="url(#p42)" stroke="black" stroke-width="3.2"/>
<path d="M585.1 995H600.5" stroke="black" stroke-width="3.2"/>
<path d="M861.8 1026.5V1030.4M861.8 1052.6V1055.6" stroke="black" stroke-width="3.2"/>
<path d="M857.2 1026.5H866.4M857.2 1055.6H866.4" stroke="black" stroke-width="3.2"/>
<rect x="854.1" y="1032" width="15.4" height="19" fill="white" stroke="black" stroke-width="3.2"/>
<path d="M854.1 1047.6H869.5" stroke="black" stroke-width="3.2"/>
<path d="M890.6 986.2V991.5M890.6 1011.5V1018.4" stroke="black" stroke-width="3.2"/>
<path d="M886 986.2H895.2M886 1018.4H895.2" stroke="black" stroke-width="3.2"/>
<rect x="882.9" y="993.1" width="15.4" height="16.8" fill="url(#p43)" stroke="black" stroke-width="3.2"/>
<path d="M882.9 1002.1H898.3" stroke="black" stroke-width="3.2"/>
<path d="M919.3 975.2V980.5M919.3 988.5V997.1" stroke="black" stroke-width="3.2"/>
<path d="M914.7 975.2H923.9M914.7 997.1H923.9" stroke="black" stroke-width="3.2"/>
<rect x="911.6" y="982.1" width="15.4" height="4.8" fill="url(#p44)" stroke="black" stroke-width="3.2"/>
<path d="M911.6 984.4H927" stroke="black" stroke-width="3.2"/>
<path d="M947.7 978.2V985.6M947.7 997.6V999.8" stroke="black" stroke-width="3.2"/>
<path d="M943.1 978.2H952.3M943.1 999.8H952.3" stroke="black" stroke-width="3.2"/>
<rect x="940" y="987.2" width="15.4" height="8.8" fill="url(#p45)" stroke="black" stroke-width="3.2"/>
<path d="M940 994.5H955.4" stroke="black" stroke-width="3.2"/>
<path d="M976.5 948.6V958.2M976.5 980.8V988.8" stroke="black" stroke-width="3.2"/>
<path d="M971.9 948.6H981.1M971.9 988.8H981.1" stroke="black" stroke-width="3.2"/>
<rect x="968.8" y="959.8" width="15.4" height="19.4" fill="url(#p46)" stroke="black" stroke-width="3.2"/>
<path d="M968.8 970H984.2" stroke="black" stroke-width="3.2"/>
<path d="M1005.4 952.2V959.2M1005.4 981.7V982.5" stroke="black" stroke-width="3.2"/>
<path d="M1000.8 952.2H1010M1000.8 982.5H1010" stroke="black" stroke-width="3.2"/>
<rect x="997.7" y="960.8" width="15.4" height="19.3" fill="url(#p47)" stroke="black" stroke-width="3.2"/>
<path d="M997.7 978.2H1013.1" stroke="black" stroke-width="3.2"/>
<path d="M1034.1 951.1V959.8M1034.1 991.7V1009.2" stroke="black" stroke-width="3.2"/>
<path d="M1029.5 951.1H1038.7M1029.5 1009.2H1038.7" stroke="black" stroke-width="3.2"/>
<rect x="1026.4" y="961.4" width="15.4" height="28.7" fill="url(#p48)" stroke="black" stroke-width="3.2"/>
<path d="M1026.4 980.2H1041.8" stroke="black" stroke-width="3.2"/>
<path d="M1062.8 953.4V959.2M1062.8 983.6V999.4" stroke="black" stroke-width="3.2"/>
<path d="M1058.2 953.4H1067.4M1058.2 999.4H1067.4" stroke="black" stroke-width="3.2"/>
<rect x="1055.1" y="960.8" width="15.4" height="21.2" fill="url(#p49)" stroke="black" stroke-width="3.2"/>
<path d="M1055.1 969H1070.5" stroke="black" stroke-width="3.2"/>
<path d="M1129.35 991.4V1010.8M1129.35 1040.3V1064.3" stroke="black" stroke-width="3.2"/>
<path d="M1124.75 991.4H1133.95M1124.75 1064.3H1133.95" stroke="black" stroke-width="3.2"/>
<rect x="1121.65" y="1012.4" width="15.4" height="26.3" fill="white" stroke="black" stroke-width="3.2"/>
<path d="M1121.65 1025.6H1137.05" stroke="black" stroke-width="3.2"/>
<path d="M1158.05 910.6V916.1M1158.05 940.9V942" stroke="black" stroke-width="3.2"/>
<path d="M1153.45 910.6H1162.65M1153.45 942H1162.65" stroke="black" stroke-width="3.2"/>
<rect x="1150.35" y="917.7" width="15.4" height="21.6" fill="url(#p50)" stroke="black" stroke-width="3.2"/>
<path d="M1150.35 929.5H1165.75" stroke="black" stroke-width="3.2"/>
<path d="M1186.75 881.3V885.9M1186.75 946.6V966.9" stroke="black" stroke-width="3.2"/>
<path d="M1182.15 881.3H1191.35M1182.15 966.9H1191.35" stroke="black" stroke-width="3.2"/>
<rect x="1179.05" y="887.5" width="15.4" height="57.5" fill="url(#p51)" stroke="black" stroke-width="3.2"/>
<path d="M1179.05 920H1194.45" stroke="black" stroke-width="3.2"/>
<path d="M1215.5 869.3V895.2M1215.5 916.1V921.9" stroke="black" stroke-width="3.2"/>
<path d="M1210.9 869.3H1220.1M1210.9 921.9H1220.1" stroke="black" stroke-width="3.2"/>
<rect x="1207.8" y="896.8" width="15.4" height="17.7" fill="url(#p52)" stroke="black" stroke-width="3.2"/>
<path d="M1207.8 908H1223.2" stroke="black" stroke-width="3.2"/>
<path d="M1244.3 887.7V893M1244.3 919.9V924.6" stroke="black" stroke-width="3.2"/>
<path d="M1239.7 887.7H1248.9M1239.7 924.6H1248.9" stroke="black" stroke-width="3.2"/>
<rect x="1236.6" y="894.6" width="15.4" height="23.7" fill="url(#p53)" stroke="black" stroke-width="3.2"/>
<path d="M1236.6 906.3H1252" stroke="black" stroke-width="3.2"/>
<path d="M1272.9 858.2V896M1272.9 944.4V961.4" stroke="black" stroke-width="3.2"/>
<path d="M1268.3 858.2H1277.5M1268.3 961.4H1277.5" stroke="black" stroke-width="3.2"/>
<rect x="1265.2" y="897.6" width="15.4" height="45.2" fill="url(#p54)" stroke="black" stroke-width="3.2"/>
<path d="M1265.2 920.4H1280.6" stroke="black" stroke-width="3.2"/>
<path d="M1301.5 913V914.3M1301.5 937.3V963.2" stroke="black" stroke-width="3.2"/>
<path d="M1296.9 913H1306.1M1296.9 963.2H1306.1" stroke="black" stroke-width="3.2"/>
<rect x="1293.8" y="915.9" width="15.4" height="19.8" fill="url(#p55)" stroke="black" stroke-width="3.2"/>
<path d="M1293.8 933.5H1309.2" stroke="black" stroke-width="3.2"/>
<path d="M1330.45 896.8V913.4M1330.45 946.5V947.5" stroke="black" stroke-width="3.2"/>
<path d="M1325.85 896.8H1335.05M1325.85 947.5H1335.05" stroke="black" stroke-width="3.2"/>
<rect x="1322.75" y="915" width="15.4" height="29.9" fill="url(#p56)" stroke="black" stroke-width="3.2"/>
<path d="M1322.75 938.8H1338.15" stroke="black" stroke-width="3.2"/>
<text x="881.37" y="397.36" font-size="32.7" font-weight="normal" transform="matrix(1 0 0 0.9250 0 29.802)" stroke="#000" stroke-width="0.7">*</text>
<text x="910.27" y="406.26" font-size="32.7" font-weight="normal" transform="matrix(1 0 0 0.9250 0 30.469)" stroke="#000" stroke-width="0.7">*</text>
<text x="939.22" y="400.96" font-size="32.7" font-weight="normal" transform="matrix(1 0 0 0.9250 0 30.072)" stroke="#000" stroke-width="0.7">*</text>
<text x="968.32" y="385.16" font-size="32.7" font-weight="normal" transform="matrix(1 0 0 0.9250 0 28.887)" stroke="#000" stroke-width="0.7">*</text>
<text x="997.22" y="410.66" font-size="32.7" font-weight="normal" transform="matrix(1 0 0 0.9250 0 30.799)" stroke="#000" stroke-width="0.7">*</text>
<text x="1026.12" y="408.96" font-size="32.7" font-weight="normal" transform="matrix(1 0 0 0.9250 0 30.672)" stroke="#000" stroke-width="0.7">*</text>
<text x="1055.12" y="418.16" font-size="32.7" font-weight="normal" transform="matrix(1 0 0 0.9250 0 31.362)" stroke="#000" stroke-width="0.7">*</text>
<text x="1151.17" y="451.46" font-size="32.7" font-weight="normal" transform="matrix(1 0 0 0.9250 0 33.859)" stroke="#000" stroke-width="0.7">*</text>
<text x="1180.12" y="450.56" font-size="32.7" font-weight="normal" transform="matrix(1 0 0 0.9250 0 33.792)" stroke="#000" stroke-width="0.7">*</text>
<text x="1209.12" y="452.86" font-size="32.7" font-weight="normal" transform="matrix(1 0 0 0.9250 0 33.964)" stroke="#000" stroke-width="0.7">*</text>
<text x="1238.22" y="421.76" font-size="32.7" font-weight="normal" transform="matrix(1 0 0 0.9250 0 31.632)" stroke="#000" stroke-width="0.7">*</text>
<text x="1267.07" y="444.16" font-size="32.7" font-weight="normal" transform="matrix(1 0 0 0.9250 0 33.312)" stroke="#000" stroke-width="0.7">*</text>
<text x="1296.02" y="456.66" font-size="32.7" font-weight="normal" transform="matrix(1 0 0 0.9250 0 34.249)" stroke="#000" stroke-width="0.7">*</text>
<text x="1325.02" y="465.86" font-size="32.7" font-weight="normal" transform="matrix(1 0 0 0.9250 0 34.939)" stroke="#000" stroke-width="0.7">*</text>
<text x="140.37" y="899.96" font-size="32.7" font-weight="normal" transform="matrix(1 0 0 0.9250 0 67.497)" stroke="#000" stroke-width="0.7">*</text>
<text x="198.67" y="887.96" font-size="32.7" font-weight="normal" transform="matrix(1 0 0 0.9250 0 66.597)" stroke="#000" stroke-width="0.7">*</text>
<text x="227.62" y="873.16" font-size="32.7" font-weight="normal" transform="matrix(1 0 0 0.9250 0 65.487)" stroke="#000" stroke-width="0.7">*</text>
<text x="285.92" y="883.36" font-size="32.7" font-weight="normal" transform="matrix(1 0 0 0.9250 0 66.252)" stroke="#000" stroke-width="0.7">*</text>
<text x="411.52" y="964.46" font-size="32.7" font-weight="normal" transform="matrix(1 0 0 0.9250 0 72.334)" stroke="#000" stroke-width="0.7">*</text>
<text x="440.62" y="955.16" font-size="32.7" font-weight="normal" transform="matrix(1 0 0 0.9250 0 71.637)" stroke="#000" stroke-width="0.7">*</text>
<text x="469.87" y="942.26" font-size="32.7" font-weight="normal" transform="matrix(1 0 0 0.9250 0 70.669)" stroke="#000" stroke-width="0.7">*</text>
<text x="528.07" y="946.86" font-size="32.7" font-weight="normal" transform="matrix(1 0 0 0.9250 0 71.014)" stroke="#000" stroke-width="0.7">*</text>
<text x="586.12" y="959.76" font-size="32.7" font-weight="normal" transform="matrix(1 0 0 0.9250 0 71.982)" stroke="#000" stroke-width="0.7">*</text>
<text x="883.92" y="982.46" font-size="32.7" font-weight="normal" transform="matrix(1 0 0 0.9250 0 73.684)" stroke="#000" stroke-width="0.7">*</text>
<text x="1151.37" y="907.66" font-size="32.7" font-weight="normal" transform="matrix(1 0 0 0.9250 0 68.074)" stroke="#000" stroke-width="0.7">*</text>
<text x="1180.07" y="881.46" font-size="32.7" font-weight="normal" transform="matrix(1 0 0 0.9250 0 66.109)" stroke="#000" stroke-width="0.7">*</text>
<text x="1266.22" y="856.06" font-size="32.7" font-weight="normal" transform="matrix(1 0 0 0.9250 0 64.204)" stroke="#000" stroke-width="0.7">*</text>
<text x="1294.82" y="910.06" font-size="32.7" font-weight="normal" transform="matrix(1 0 0 0.9250 0 68.254)" stroke="#000" stroke-width="0.7">*</text>
<text x="1323.77" y="894.76" font-size="32.7" font-weight="normal" transform="matrix(1 0 0 0.9250 0 67.107)" stroke="#000" stroke-width="0.7">*</text>
<text x="162.28" y="865.86" font-size="32.7" font-weight="normal" transform="matrix(1 0 0 0.9250 0 64.939)" stroke="#000" stroke-width="0.7">*</text>
<text x="177.23" y="859.15" font-size="24.5" font-weight="normal" transform="matrix(1 0 0 1.0800 0 -68.732)" stroke="#000" stroke-width="0.5">#</text>
<text x="249.68" y="879.96" font-size="32.7" font-weight="normal" transform="matrix(1 0 0 0.9250 0 65.997)" stroke="#000" stroke-width="0.7">*</text>
<text x="264.63" y="873.25" font-size="24.5" font-weight="normal" transform="matrix(1 0 0 1.0800 0 -69.860)" stroke="#000" stroke-width="0.5">#</text>
<text x="307.78" y="862.06" font-size="32.7" font-weight="normal" transform="matrix(1 0 0 0.9250 0 64.654)" stroke="#000" stroke-width="0.7">*</text>
<text x="322.73" y="855.35" font-size="24.5" font-weight="normal" transform="matrix(1 0 0 1.0800 0 -68.428)" stroke="#000" stroke-width="0.5">#</text>
<text x="491.58" y="935.76" font-size="32.7" font-weight="normal" transform="matrix(1 0 0 0.9250 0 70.182)" stroke="#000" stroke-width="0.7">*</text>
<text x="506.53" y="929.05" font-size="24.5" font-weight="normal" transform="matrix(1 0 0 1.0800 0 -74.324)" stroke="#000" stroke-width="0.5">#</text>
<text x="550.08" y="988.36" font-size="32.7" font-weight="normal" transform="matrix(1 0 0 0.9250 0 74.127)" stroke="#000" stroke-width="0.7">*</text>
<text x="565.03" y="981.65" font-size="24.5" font-weight="normal" transform="matrix(1 0 0 1.0800 0 -78.532)" stroke="#000" stroke-width="0.5">#</text>
<text x="905.48" y="973.86" font-size="32.7" font-weight="normal" transform="matrix(1 0 0 0.9250 0 73.039)" stroke="#000" stroke-width="0.7">*</text>
<text x="920.43" y="967.15" font-size="24.5" font-weight="normal" transform="matrix(1 0 0 1.0800 0 -77.372)" stroke="#000" stroke-width="0.5">#</text>
<text x="933.88" y="976.46" font-size="32.7" font-weight="normal" transform="matrix(1 0 0 0.9250 0 73.234)" stroke="#000" stroke-width="0.7">*</text>
<text x="948.83" y="969.75" font-size="24.5" font-weight="normal" transform="matrix(1 0 0 1.0800 0 -77.580)" stroke="#000" stroke-width="0.5">#</text>
<text x="962.68" y="947.26" font-size="32.7" font-weight="normal" transform="matrix(1 0 0 0.9250 0 71.044)" stroke="#000" stroke-width="0.7">*</text>
<text x="977.63" y="940.55" font-size="24.5" font-weight="normal" transform="matrix(1 0 0 1.0800 0 -75.244)" stroke="#000" stroke-width="0.5">#</text>
<text x="991.58" y="950.86" font-size="32.7" font-weight="normal" transform="matrix(1 0 0 0.9250 0 71.314)" stroke="#000" stroke-width="0.7">*</text>
<text x="1006.53" y="944.15" font-size="24.5" font-weight="normal" transform="matrix(1 0 0 1.0800 0 -75.532)" stroke="#000" stroke-width="0.5">#</text>
<text x="1020.28" y="946.96" font-size="32.7" font-weight="normal" transform="matrix(1 0 0 0.9250 0 71.022)" stroke="#000" stroke-width="0.7">*</text>
<text x="1035.23" y="940.25" font-size="24.5" font-weight="normal" transform="matrix(1 0 0 1.0800 0 -75.220)" stroke="#000" stroke-width="0.5">#</text>
<text x="1048.98" y="950.86" font-size="32.7" font-weight="normal" transform="matrix(1 0 0 0.9250 0 71.314)" stroke="#000" stroke-width="0.7">*</text>
<text x="1063.93" y="944.15" font-size="24.5" font-weight="normal" transform="matrix(1 0 0 1.0800 0 -75.532)" stroke="#000" stroke-width="0.5">#</text>
<text x="1201.68" y="868.86" font-size="32.7" font-weight="normal" transform="matrix(1 0 0 0.9250 0 65.164)" stroke="#000" stroke-width="0.7">*</text>
<text x="1216.63" y="862.15" font-size="24.5" font-weight="normal" transform="matrix(1 0 0 1.0800 0 -68.972)" stroke="#000" stroke-width="0.5">#</text>
<text x="1230.48" y="886.56" font-size="32.7" font-weight="normal" transform="matrix(1 0 0 0.9250 0 66.492)" stroke="#000" stroke-width="0.7">*</text>
<text x="1245.43" y="879.85" font-size="24.5" font-weight="normal" transform="matrix(1 0 0 1.0800 0 -70.388)" stroke="#000" stroke-width="0.5">#</text>
<rect x="384.75" y="1276.25" width="36.4" height="16.5" fill="white" stroke="black" stroke-width="3.5"/>
<text x="445.7" y="1294.9" font-size="32" font-weight="normal" textLength="93.58" lengthAdjust="spacingAndGlyphs">control</text>
<rect x="386.5" y="1313.2" width="32.9" height="13" fill="white"/>
<rect x="391.9" y="1318.8" width="2.2" height="2.2" fill="black"/>
<rect x="399.6" y="1318.8" width="2.2" height="2.2" fill="black"/>
<rect x="407.1" y="1318.8" width="2.2" height="2.2" fill="black"/>
<rect x="414.8" y="1318.8" width="2.2" height="2.2" fill="black"/>
<rect x="384.75" y="1311.45" width="36.4" height="16.5" fill="none" stroke="black" stroke-width="3.5"/>
<text x="445.7" y="1329.9" font-size="32" font-weight="normal" textLength="31.92" lengthAdjust="spacingAndGlyphs">IR</text>
<rect x="384.75" y="1348.75" width="36.4" height="16.5" fill="url(#p57)" stroke="black" stroke-width="3.5"/>
<text x="445.7" y="1367.3" font-size="32" font-weight="normal" textLength="364.77" lengthAdjust="spacingAndGlyphs">IR + 1 dose of IGF-1 (1 h)</text>
<rect x="386.5" y="1387.8" width="32.9" height="13" fill="white"/>
<rect x="392.1" y="1387.8" width="7.7" height="6.2" fill="black"/>
<rect x="407.2" y="1387.8" width="7.8" height="6.2" fill="black"/>
<rect x="386.5" y="1394" width="5.6" height="6.8" fill="black"/>
<rect x="399.8" y="1394" width="7.4" height="6.8" fill="black"/>
<rect x="415" y="1394" width="4.4" height="6.8" fill="black"/>
<rect x="384.75" y="1386.05" width="36.4" height="16.5" fill="none" stroke="black" stroke-width="3.5"/>
<text x="445.7" y="1404.8" font-size="32" font-weight="normal" textLength="433.39" lengthAdjust="spacingAndGlyphs">IR + 2 doses of IGF-1 (1, 24 h)</text>
<rect x="384.75" y="1423.55" width="36.4" height="16.5" fill="url(#p58)" stroke="black" stroke-width="3.5"/>
<text x="445.7" y="1442.8" font-size="32" font-weight="normal" textLength="486.71" lengthAdjust="spacingAndGlyphs">IR + 3 doses of IGF-1 (1, 24, 48 h)</text>
<rect x="384.75" y="1460.75" width="36.4" height="16.5" fill="url(#p59)" stroke="black" stroke-width="3.5"/>
<text x="445.7" y="1480.3" font-size="32" font-weight="normal" textLength="540.53" lengthAdjust="spacingAndGlyphs">IR + 4 doses of IGF-1 (1, 24, 48, 72 h)</text>
<rect x="386.5" y="1500.4" width="32.9" height="13" fill="white"/>
<path d="M394.9 1500.4V1513.4M406.3 1500.4V1513.4M417.9 1500.4V1513.4M386.5 1508.8H419.4" stroke="black" stroke-width="2"/>
<rect x="384.75" y="1498.65" width="36.4" height="16.5" fill="none" stroke="black" stroke-width="3.5"/>
<text x="445.7" y="1517.5" font-size="32" font-weight="normal" textLength="593.64" lengthAdjust="spacingAndGlyphs">IR + 5 doses of IGF-1 (1, 24, 48, 72, 96 h)</text>
<rect x="384.75" y="1536.05" width="36.4" height="16.5" fill="url(#p60)" stroke="black" stroke-width="3.5"/>
<text x="445.7" y="1554.6" font-size="32" font-weight="normal" textLength="503.74" lengthAdjust="spacingAndGlyphs">IR + 3 doses of IGF-1 (24, 48, 72 h)</text>
</svg></body></html>
